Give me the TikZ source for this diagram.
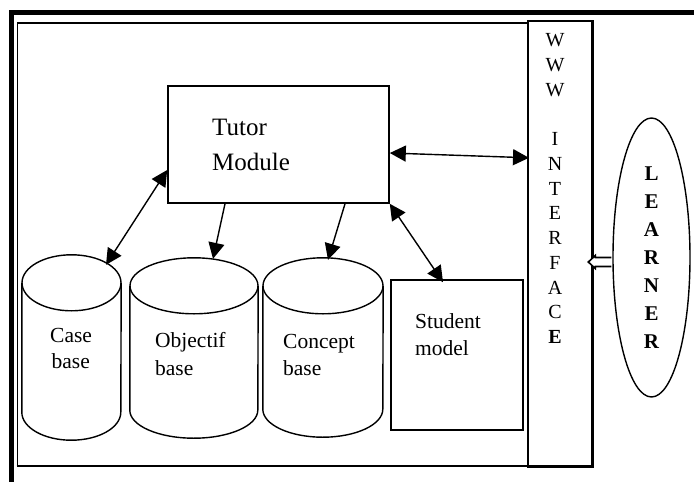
\documentclass[tikz,border=0pt]{standalone}
\usepackage{fontspec}
\setmainfont{Liberation Serif}
\usetikzlibrary{arrows.meta,shapes.geometric,calc}
\tikzset{
  box/.style={draw, line width=1.6pt, inner sep=0pt},
  cylbox/.style={inner sep=0pt},
  lbl/.style={anchor=base west, inner sep=0pt, font=\fontsize{21.5}{26}\selectfont},
  conn/.style={line width=1.4pt, -{Triangle[length=16pt,width=16pt]}},
  biconn/.style={line width=1.4pt, {Triangle[length=16pt,width=16pt]}-{Triangle[length=16pt,width=16pt]}},
}
\newcommand\drawcyl[3]{%
  \draw[line width=1.4pt] ($(#1.north)+(0,-#3)$) ellipse [x radius=#2, y radius=#3];
  \draw[line width=1.4pt] ($(#1.north west)+(0,-#3)$) -- ($(#1.south west)+(0,#3)$)
     arc [start angle=180, end angle=360, x radius=#2, y radius=#3]
     -- ($(#1.north east)+(0,-#3)$);
}
\begin{document}
\begin{tikzpicture}[x=1pt,y=-1pt]
\useasboundingbox (0,0) rectangle (694,482);
% outer thick frame
\draw[line width=5pt] (11,482) -- (11,12.5) -- (694,12.5);
% inner frame
\node[draw, line width=1.6pt, inner sep=0pt, minimum width=510.3, minimum height=442.5, anchor=north west] (frame) at (16.7,22) {};
\draw[line width=2.6pt] (frame.south west) -- (frame.south east);
% WWW interface box
\node[box, minimum width=64, minimum height=445, anchor=north west] (www) at (527,20) {};
\draw[line width=3pt] (www.north east) -- (www.south east) -- (www.south west);
\node[inner sep=0pt, align=center, font=\fontsize{20}{24.75}\selectfont] (wwwtxt) at (555,188.5)
  {W\\W\\W\\\mbox{}\\I\\N\\T\\E\\R\\F\\A\\C\\\textbf{E}};
% learner
\node[draw, ellipse, line width=1.4pt, minimum width=77, minimum height=279, inner sep=0pt,
  align=center, font=\fontsize{21}{28}\selectfont\bfseries] (learner) at (651.5,257.5)
  {L\\E\\A\\R\\N\\E\\R};
\draw[line width=1.6pt, fill=white]
  ($(learner.west)+(-1pt,0pt)$) -- ($(learner.west)+(-17pt,0pt)$) -- ($(learner.west)+(-17pt,2pt)$)
  -- ($(learner.west)+(-24pt,-4.5pt)$) -- ($(learner.west)+(-17pt,-11pt)$)
  -- ($(learner.west)+(-17pt,-9pt)$) -- ($(learner.west)+(-1pt,-9pt)$);
% tutor module
\node[box, minimum width=221, minimum height=117] (tutor) at (278.5,144.5) {};
\node[anchor=base west, inner sep=0pt, font=\fontsize{25}{30}\selectfont] (tutort1) at (212,135) {Tutor};
\node[anchor=base west, inner sep=0pt, font=\fontsize{25}{30}\selectfont] (tutort2) at (212,170) {Module};
% student model
\node[box, minimum width=132, minimum height=150] (student) at (457,355) {};
\node[lbl] (studt1) at (415,328) {Student};
\node[lbl] (studt2) at (415,355) {model};
% cylinders
\node[cylbox, minimum width=99, minimum height=185] (case) at (71.5,347.5) {};
\node[cylbox, minimum width=128, minimum height=180] (obj) at (194,348) {};
\node[cylbox, minimum width=120, minimum height=179] (concept) at (323,347.5) {};
\drawcyl{case}{49.5pt}{28pt}
\drawcyl{obj}{64pt}{28pt}
\drawcyl{concept}{60pt}{28pt}
\node[lbl] (caset1) at (50,342) {Case};
\node[lbl] (caset2) at (51.5,368) {base};
\node[lbl] (objt1) at (155,347) {Objectif};
\node[lbl] (objt2) at (155,375) {base};
\node[lbl] (cont1) at (283,348) {Concept};
\node[lbl] (cont2) at (283,375) {base};
% connectors
\draw[biconn] ([yshift=-25.5pt]tutor.west) -- ([xshift=34.5pt,yshift=-10pt]case.north);
\draw[conn] ([xshift=-53.5pt]tutor.south) -- ([xshift=19pt,yshift=-1pt]obj.north);
\draw[conn] ([xshift=66.5pt]tutor.south) -- ([xshift=5pt,yshift=-2pt]concept.north);
\draw[biconn] (tutor.south east) -- ([xshift=-14pt,yshift=-3pt]student.north);
\draw[biconn] ([yshift=-8.5pt]tutor.east) -- ([yshift=85.5pt,xshift=2pt]www.west);
\end{tikzpicture}
\end{document}
